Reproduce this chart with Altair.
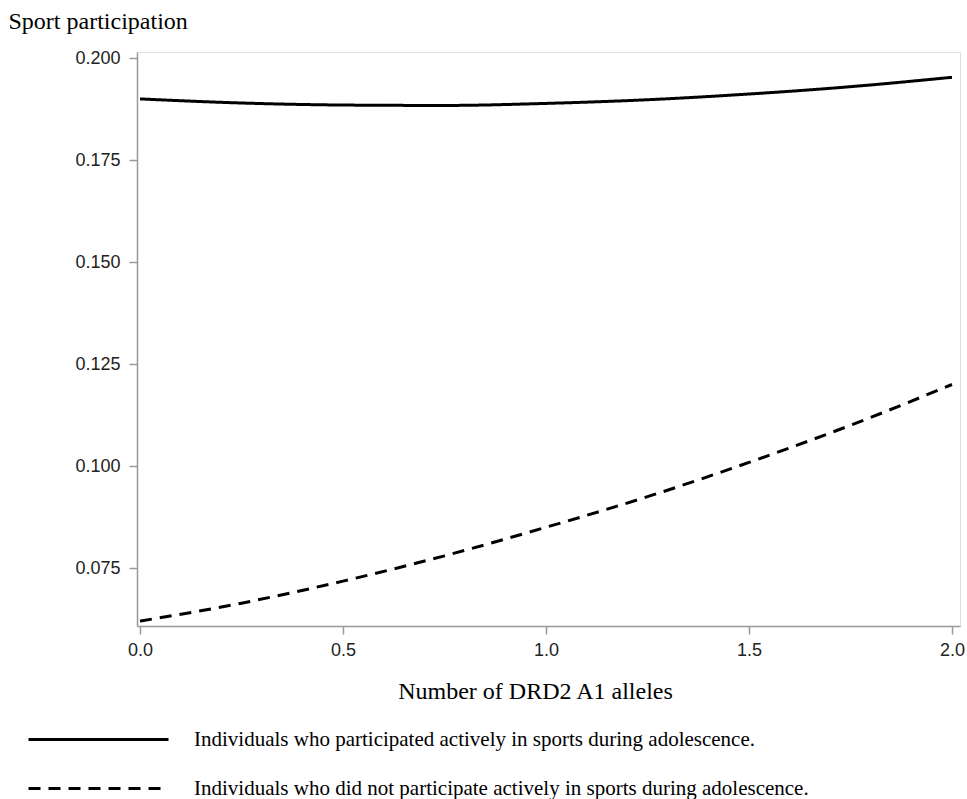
import altair as alt
import pandas as pd

alleles = [0.0, 0.25, 0.5, 0.75, 1.0, 1.25, 1.5, 1.75, 2.0]
active = [0.1900, 0.1890, 0.1885, 0.1884, 0.1889, 0.1898, 0.1912, 0.1930, 0.1953]
inactive = [0.0620, 0.0664, 0.0718, 0.0780, 0.0850, 0.0925, 0.1009, 0.1100, 0.1200]
groups = [
    "Individuals who participated actively in sports during adolescence.",
    "Individuals who did not participate actively in sports during adolescence.",
]
y_ticks = [0.075, 0.100, 0.125, 0.150, 0.175, 0.200]
x_ticks = [0.0, 0.5, 1.0, 1.5, 2.0]

rows = []
for x, a in zip(alleles, active):
    rows.append({"x": x, "y": a, "group": groups[0]})
for x, b in zip(alleles, inactive):
    rows.append({"x": x, "y": b, "group": groups[1]})
df = pd.DataFrame(rows)

chart = alt.Chart(df).mark_line(strokeWidth=3, interpolate="monotone", color="black").encode(
    x=alt.X("x:Q", scale=alt.Scale(domain=[-0.0074, 2.0197], nice=False, zero=False),
            axis=alt.Axis(values=x_ticks, format=".1f", title="Number of DRD2 A1 alleles",
                          titleX=398, titleY=72, titleBaseline="alphabetic", titleAlign="center",
                          titleFont="Liberation Serif", titleFontSize=24, titleFontWeight="normal",
                          titleColor="black",
                          labelFont="Liberation Sans", labelFontSize=18, labelColor="#222222",
                          labelPadding=7, tickSize=8, tickColor="#999999", tickWidth=1.5,
                          domainColor="#999999", domainWidth=1.5,
                          grid=False, labelFlush=False)),
    y=alt.Y("y:Q", scale=alt.Scale(domain=[0.0608, 0.2015], nice=False, zero=False),
            axis=alt.Axis(values=y_ticks, format=".3f", title="Sport participation",
                          titleAngle=0, titleX=-129, titleY=-24, titleAlign="left",
                          titleBaseline="alphabetic",
                          titleFont="Liberation Serif", titleFontSize=24, titleFontWeight="normal",
                          titleColor="black",
                          labelFont="Liberation Sans", labelFontSize=18, labelColor="#222222",
                          labelPadding=9, tickSize=8, tickColor="#999999", tickWidth=1.5,
                          domainColor="#999999", domainWidth=1.5,
                          grid=False)),
    strokeDash=alt.StrokeDash("group:N",
        scale=alt.Scale(domain=groups, range=[[1, 0], [12, 8]]),
        legend=alt.Legend(orient="none", legendX=-54, legendY=672, title=None,
                          symbolType="M-5,0H5", symbolSize=784, symbolStrokeWidth=3,
                          symbolStrokeColor="black", symbolFillColor="black",
                          labelFont="Liberation Serif", labelFontSize=21, labelColor="black",
                          labelOffset=80, rowPadding=23, labelLimit=900)),
).properties(
    width=823, height=574,
    padding={"left": 137, "top": 52, "right": 7, "bottom": 173},
    autosize=alt.AutoSizeParams(type="none"),
).configure_view(stroke="#999999", strokeWidth=1.5).configure(background="white")

chart.save("out.html", embed_options={"renderer": "svg", "actions": False})
